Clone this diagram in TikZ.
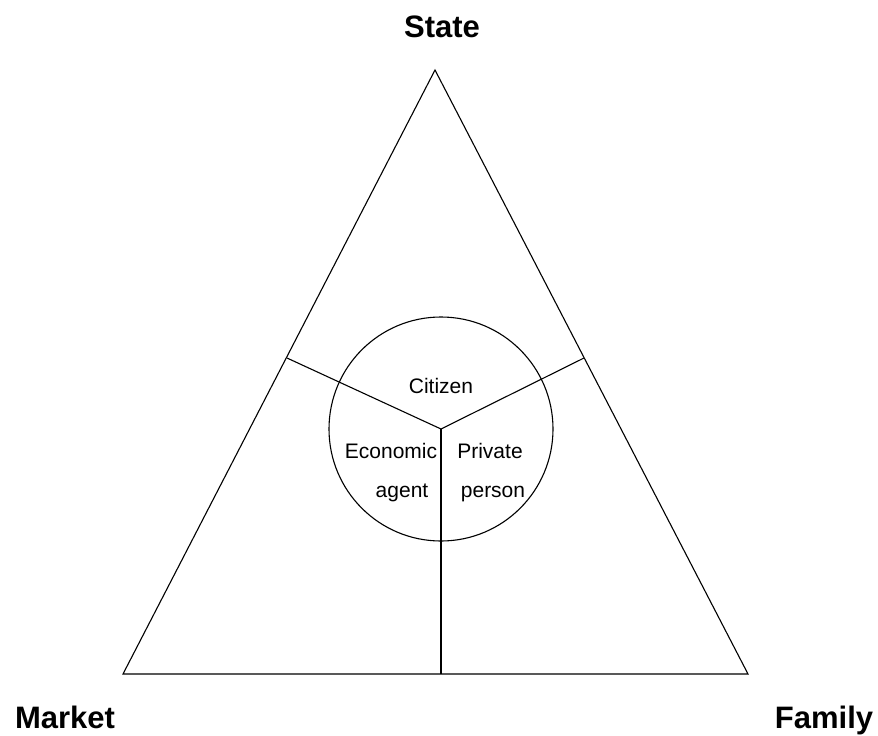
\documentclass[tikz,border=0pt]{standalone}
\usepackage{fontspec}
\setmainfont{Liberation Sans}
\begin{document}
\begin{tikzpicture}[x=1pt,y=-1pt,
  edge/.style={draw=black,line width=1.1pt,line join=miter},
  pole/.style={font=\fontsize{31}{31}\selectfont\bfseries,anchor=base,inner sep=0pt},
  role/.style={font=\fontsize{21}{21}\selectfont,anchor=base,inner sep=0pt}]
\useasboundingbox (0,0) rectangle (878,736);
% corners of the triangle
\coordinate (top) at (435,70);
\coordinate (bl) at (123,674);
\coordinate (br) at (748,674);
% centre of the circle and the points where the dividers meet the sides
\coordinate (mid) at (441,429);
\coordinate (lside) at (287,358);
\coordinate (rside) at (584,358);
\coordinate (bside) at (441,674);
\draw[edge] (top) -- (bl) -- (br) -- cycle;
\draw[edge] (mid) circle[radius=112];
\draw[edge] (mid) -- (lside);
\draw[edge] (mid) -- (rside);
\draw[edge] (mid) -- (bside);
% pole labels
\node[pole] (state) at (442,37) {State};
\node[pole] (market) at (65,728) {Market};
\node[pole] (family) at (824,728) {Family};
% roles inside the circle
\node[role] (citizen) at (441,393) {Citizen};
\node[role] (econ) at (391,458) {Economic};
\node[role] (agent) at (402,497) {agent};
\node[role] (private) at (490,458) {Private};
\node[role] (person) at (493,497) {person};
\end{tikzpicture}
\end{document}
